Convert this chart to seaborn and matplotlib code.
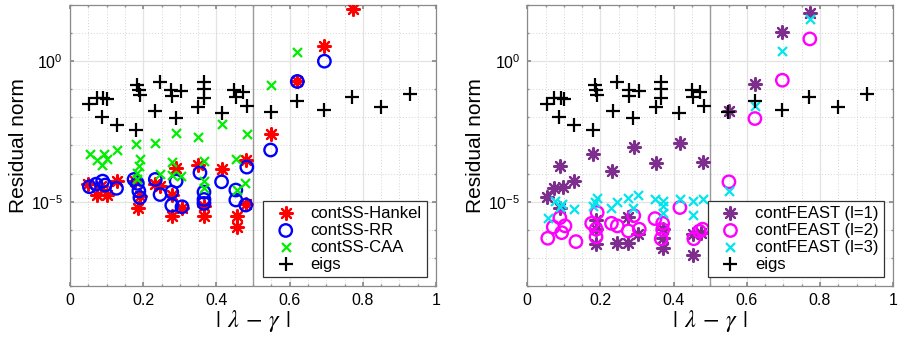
import numpy as np
import matplotlib
matplotlib.use("Agg")
import matplotlib.pyplot as plt
from matplotlib.markers import MarkerStyle
from matplotlib.ticker import FixedLocator, NullFormatter
import seaborn as sns

# eigenvalue distance |lambda - gamma| and residual norms
eigs_x = [0.053, 0.073, 0.091, 0.100, 0.087, 0.129, 0.179, 0.184, 0.188, 0.191,
          0.233, 0.246, 0.277, 0.279, 0.304, 0.290, 0.351, 0.366, 0.366, 0.366,
          0.414, 0.449, 0.453, 0.472, 0.483, 0.548, 0.621, 0.695, 0.770, 0.850, 0.929]
eigs_y = [2.95e-2, 4.8e-2, 4.8e-2, 4.6e-2, 1.05e-2, 5.4e-3, 3.5e-3, 0.141, 9.3e-2, 6.2e-2,
          1.66e-2, 0.178, 9.8e-2, 5.75e-2, 8.5e-2, 9.8e-3, 2.4e-2, 0.178, 0.105, 5.0e-2,
          1.38e-2, 9.3e-2, 5.4e-2, 7.9e-2, 2.6e-2, 1.58e-2, 3.8e-2, 1.78e-2, 5.25e-2, 2.4e-2, 6.6e-2]

hankel_x = [0.050, 0.073, 0.100, 0.127, 0.085, 0.178, 0.187, 0.190, 0.232, 0.245,
            0.278, 0.278, 0.290, 0.305, 0.350, 0.366, 0.366, 0.414, 0.456, 0.456,
            0.480, 0.480, 0.548, 0.621, 0.695, 0.772]
hankel_y = [4.2e-5, 1.8e-5, 1.8e-5, 5.4e-5, 3.5e-5, 5.6e-5, 6.2e-6, 1.6e-5, 4.2e-5, 3.5e-5,
            3.1e-6, 1.8e-5, 1.6e-4, 6.2e-6, 2.1e-4, 3.1e-6, 7.1e-6, 1.5e-4, 3.1e-6, 1.26e-6,
            8.3e-6, 3.0e-4, 2.6e-3, 0.19, 3.4, 72]

rr_x = [0.053, 0.071, 0.089, 0.096, 0.127, 0.175, 0.184, 0.188, 0.191, 0.233,
        0.246, 0.278, 0.278, 0.290, 0.306, 0.355, 0.366, 0.366, 0.366, 0.414,
        0.453, 0.453, 0.480, 0.483, 0.548, 0.621, 0.695]
rr_y = [3.4e-5, 4.2e-5, 5.4e-5, 3.9e-5, 3.0e-5, 6.2e-5, 4.5e-5, 2.4e-5, 1.4e-5, 6.2e-5,
        1.8e-5, 2.2e-5, 7.4e-6, 5.4e-5, 6.6e-6, 1.07e-4, 2.2e-5, 1.2e-5, 8.7e-6, 5.1e-5,
        2.6e-5, 1.15e-5, 7.6e-6, 1.7e-4, 6.9e-4, 0.19, 1.0]

caa_x = [0.055, 0.075, 0.087, 0.093, 0.100, 0.129, 0.180, 0.182, 0.184, 0.188,
         0.191, 0.233, 0.246, 0.278, 0.278, 0.290, 0.303, 0.351, 0.366, 0.366,
         0.366, 0.414, 0.453, 0.455, 0.478, 0.483, 0.548, 0.621]
caa_y = [4.8e-4, 3.0e-4, 2.0e-4, 4.8e-4, 3.2e-4, 6.9e-4, 1.1e-3, 6.2e-5, 1.07e-4, 1.9e-4,
         3.2e-4, 1.26e-3, 9.3e-5, 2.5e-4, 8.9e-5, 2.8e-3, 8.1e-5, 2.0e-3, 2.8e-4, 5.4e-5,
         3.2e-5, 5.6e-3, 3.2e-4, 2.6e-5, 4.8e-5, 2.5e-3, 0.141, 2.1]

feast1_x = [0.772, 0.697, 0.622, 0.551, 0.479, 0.417, 0.454, 0.454, 0.476, 0.351,
            0.370, 0.370, 0.370, 0.291, 0.276, 0.276, 0.303, 0.246, 0.232, 0.179,
            0.188, 0.188, 0.188, 0.089, 0.128, 0.098, 0.074, 0.053, 0.089]
feast1_y = [52, 11, 0.16, 1.66e-2, 2.6e-4, 1.2e-3, 1.26e-7, 6.9e-7, 7.9e-7, 2.3e-4,
            2.3e-7, 5.2e-7, 1.05e-6, 8.7e-4, 2.8e-6, 3.3e-7, 6.9e-7, 3.3e-7, 1.23e-4, 4.8e-4,
            2.3e-6, 1.05e-6, 3.0e-7, 1.9e-4, 5.4e-5, 3.3e-5, 3.2e-5, 1.5e-5, 6.2e-6]

feast2_x = [0.772, 0.697, 0.622, 0.551, 0.479, 0.455, 0.470, 0.417, 0.370, 0.366,
            0.370, 0.349, 0.306, 0.291, 0.276, 0.246, 0.230, 0.191, 0.188, 0.176,
            0.188, 0.133, 0.103, 0.094, 0.071, 0.089, 0.056]
feast2_y = [6.2, 0.21, 9.1e-3, 5.1e-5, 1.05e-6, 4.8e-7, 8.9e-7, 6.2e-6, 1.7e-6, 4.8e-7,
            1.0e-6, 2.5e-6, 1.05e-6, 3.2e-6, 9.1e-7, 1.38e-6, 1.7e-6, 4.1e-6, 1.05e-6, 1.7e-6,
            5.6e-7, 3.8e-7, 1.38e-6, 7.9e-7, 1.26e-6, 2.7e-6, 5.0e-7]

feast3_x = [0.772, 0.697, 0.622, 0.551, 0.479, 0.454, 0.454, 0.417, 0.370, 0.370,
            0.349, 0.303, 0.276, 0.288, 0.246, 0.230, 0.191, 0.179, 0.185, 0.128,
            0.094, 0.076, 0.089, 0.056, 0.370]
feast3_y = [32, 2.3, 2.6e-2, 2.4e-5, 1.2e-5, 1.05e-5, 3.5e-6, 1.2e-5, 1.05e-5, 4.1e-6,
            1.2e-5, 1.74e-5, 1.3e-5, 6.2e-6, 1.0e-5, 5.8e-6, 1.4e-5, 7.1e-6, 1.0e-5, 5.4e-6,
            8.1e-6, 1.05e-5, 6.3e-6, 2.7e-6, 7.1e-6]

xtick_vals = [0, 0.2, 0.4, 0.6, 0.8, 1]
xtick_labels = ["0", "0.2", "0.4", "0.6", "0.8", "1"]
ytick_vals = [1e-5, 1e0]
ytick_labels = [r"$\mathdefault{10^{-5}}$", r"$\mathdefault{10^{0}}$"]

sns.set_theme(style="white")
plt.rcParams["font.family"] = ["Liberation Sans", "DejaVu Sans"]
plt.rcParams["axes.unicode_minus"] = True
plt.rcParams["text.color"] = "black"
plt.rcParams["axes.labelcolor"] = "black"

# MATLAB-like '*' : eight-armed asterisk
star = (8, 2, 0)
ring = MarkerStyle("o", fillstyle="none")


def style_axes(ax):
    ax.set_yscale("log")
    ax.set_xlim(0, 1)
    ax.set_ylim(1e-8, 1e2)
    ax.set_xticks(xtick_vals)
    ax.set_xticklabels(xtick_labels)
    ax.xaxis.set_minor_locator(FixedLocator(np.arange(0, 1.001, 0.05)))
    ax.yaxis.set_major_locator(FixedLocator(ytick_vals))
    ax.set_yticklabels(ytick_labels)
    ax.yaxis.set_minor_locator(FixedLocator([10.0 ** k for k in range(-8, 3)]))
    ax.yaxis.set_minor_formatter(NullFormatter())
    ax.grid(True, which="major", color="#e3e3e3", lw=0.9, ls="-")
    ax.grid(True, which="minor", color="#d4d4d4", lw=0.7, ls=(0, (1, 2)))
    ax.set_axisbelow(True)
    ax.axvline(0.5, color="#9a9a9a", lw=1.0, zorder=1)
    for sp in ax.spines.values():
        sp.set_color("#8a8a8a")
        sp.set_linewidth(0.9)
    ax.tick_params(which="both", direction="in", length=3, color="#8a8a8a",
                   labelcolor="black", labelsize=11.5, top=True, right=True,
                   bottom=True, left=True, pad=5)
    ax.tick_params(which="minor", length=1.5)
    ax.set_ylabel("Residual norm", fontsize=15, labelpad=2, color="black")
    ax.set_xlabel(r"$|\;\,\lambda\,-\,\gamma\;\,|$", fontsize=17.5,
                  math_fontfamily="stix", labelpad=0, color="black")


fig = plt.figure(figsize=(8.99, 3.44), dpi=100)
ax1 = fig.add_axes([0.0779, 0.1686, 0.4071, 0.8169])
ax2 = fig.add_axes([0.5865, 0.1686, 0.4071, 0.8169])

# left panel
sns.scatterplot(x=hankel_x, y=hankel_y, ax=ax1, marker=star, color="#ff0000",
                s=85, linewidth=1.6, label="contSS-Hankel", zorder=3)
sns.scatterplot(x=rr_x, y=rr_y, ax=ax1, marker=ring, color="#0000ff",
                s=80, linewidth=1.7, label="contSS-RR", zorder=3)
sns.scatterplot(x=caa_x, y=caa_y, ax=ax1, marker="x", color="#00ee00",
                s=42, linewidth=1.6, label="contSS-CAA", zorder=3)
sns.scatterplot(x=eigs_x, y=eigs_y, ax=ax1, marker="+", color="black",
                s=95, linewidth=1.6, label="eigs", zorder=3)

# right panel
sns.scatterplot(x=feast1_x, y=feast1_y, ax=ax2, marker=star, color="#7e2f8e",
                s=85, linewidth=1.6, label="contFEAST (l=1)", zorder=3)
sns.scatterplot(x=feast2_x, y=feast2_y, ax=ax2, marker=ring, color="#ff00ff",
                s=80, linewidth=1.7, label="contFEAST (l=2)", zorder=3)
sns.scatterplot(x=feast3_x, y=feast3_y, ax=ax2, marker="x", color="#00e5ee",
                s=42, linewidth=1.6, label="contFEAST (l=3)", zorder=3)
sns.scatterplot(x=eigs_x, y=eigs_y, ax=ax2, marker="+", color="black",
                s=95, linewidth=1.6, label="eigs", zorder=3)

for ax in (ax1, ax2):
    style_axes(ax)
    leg = ax.legend(loc="lower right", fontsize=12, frameon=True, fancybox=False,
                    edgecolor="#333333", framealpha=1, borderaxespad=0.55,
                    labelspacing=0.12, handletextpad=0.45, handlelength=2.1,
                    borderpad=0.3)
    leg.get_frame().set_linewidth(0.9)

fig.savefig("out.png", dpi=100)
